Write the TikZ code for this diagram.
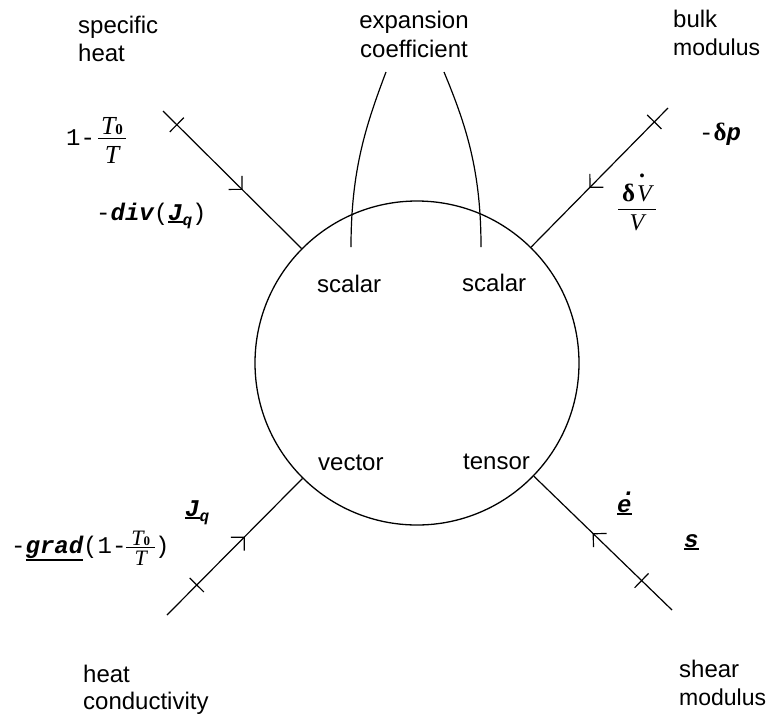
\documentclass[tikz,border=0pt]{standalone}
\usepackage{fontspec}
\setmainfont{Liberation Sans}
\newfontfamily\cour{Liberation Mono}
\newfontfamily\serf{Liberation Serif}
\usetikzlibrary{decorations.markings}

\newcommand\myul[1]{\leavevmode\vtop{\hbox{#1}\kern1.2pt\hrule height1.4pt}}
% above-kern, below-kern, side-kern, numerator, denominator
\newcommand\myfr[5]{\vbox{\offinterlineskip\halign{\hfil\kern#3##\kern#3\hfil\cr #4\cr\noalign{\kern#1\hrule height1.4pt\kern#2}#5\cr}}}
\newcommand\Tit[1]{{\serf\itshape\fontsize{#1}{#1}\selectfont T}}
\newcommand\zero[1]{{\serf\bfseries\fontsize{#1}{#1}\selectfont 0}}
\newcommand\Vit{{\serf\itshape\fontsize{24}{24}\selectfont V}}
\newcommand\dlt{{\serf\bfseries\fontsize{25}{25}\selectfont δ}}

\tikzset{
  lbl/.style={anchor=base west, inner sep=0pt, font=\fontsize{24}{28}\selectfont},
  lblc/.style={anchor=base, inner sep=0pt, font=\fontsize{24}{28}\selectfont},
  frm/.style={anchor=base west, inner sep=0pt, font=\cour\fontsize{24}{24}\selectfont},
  bond/.style={line width=1.2pt, postaction={decorate}, decoration={markings,
    mark=at position #1 with {\draw[line width=1.2pt] (0pt,-10pt) -- (0pt,10pt);},
    mark=at position 0.57 with {\draw[line width=1.2pt, line join=miter] (-9.5pt,9.5pt) -- (0pt,0pt) -- (-9.5pt,-9.5pt);}}},
  curve/.style={line width=1.2pt}
}

\begin{document}
\begin{tikzpicture}[x=1pt,y=-1pt]
\path[use as bounding box] (0,0) rectangle (768,713);

% central circle
\node[draw, circle, minimum size=324pt, inner sep=0pt, line width=1.3pt] (c) at (417,363) {};

% outer ends of the bonds
\coordinate (ulo) at (163,111);
\coordinate (uro) at (668,108);
\coordinate (llo) at (167,615);
\coordinate (lro) at (672,610);

\draw[bond=0.1]  (ulo) -- (c);
\draw[bond=0.1]  (uro) -- (c);
\draw[bond=0.22] (llo) -- (c);
\draw[bond=0.22] (lro) -- (c);

% expansion coefficient curves
\coordinate (el) at (386,72);
\coordinate (sl) at (351,247);
\coordinate (er) at (444,72);
\coordinate (sr) at (481,247);
\draw[curve] (el) .. controls (366,125) and (351,170) .. (sl);
\draw[curve] (er) .. controls (466,125) and (481,170) .. (sr);

% corner labels
\node[lbl] (sp1) at (78,33) {specific};
\node[lbl] (sp2) at (78,61.5) {heat};
\node[lblc] (ex1) at (414,28) {expansion};
\node[lblc] (ex2) at (414,57) {coefficient};
\node[lbl] (bu1) at (673,27) {bulk};
\node[lbl, font=\fontsize{23}{28}\selectfont] (bu2) at (673,55) {modulus};
\node[lbl] (hc1) at (83,682) {heat};
\node[lbl] (hc2) at (83,709) {conductivity};
\node[lbl] (sh1) at (679,677) {shear};
\node[lbl, font=\fontsize{23}{28}\selectfont] (sh2) at (679,705) {modulus};

% labels inside the circle
\node[lbl] (sc1) at (317,292) {scalar};
\node[lbl] (sc2) at (462,291) {scalar};
\node[lbl] (vec) at (318,470) {vector};
\node[lbl] (ten) at (463,469) {tensor};

% formulas
\node[frm] (f1) at (66,145) {1-\kern3pt\raisebox{-18pt}{\myfr{3pt}{6.5pt}{3pt}{\Tit{26}\zero{15}}{\Tit{26}}}};
\node[frm] (f2) at (96,220) {-{\bfseries\itshape div}(\myul{\bfseries\itshape J}\raisebox{-5pt}{\fontsize{16}{16}\selectfont\bfseries\itshape q})};
\node[frm] (f3) at (699,140) {-\dlt{\bfseries\itshape p}};
\node[anchor=base, inner sep=0pt] (f4) at (637,230) {\myfr{7pt}{4.3pt}{4pt}{\dlt\kern2pt\makebox[0pt][l]{\kern2pt\raisebox{24pt}{\serf\bfseries\fontsize{24}{24}\selectfont .}}\Vit}{\Vit}};
\node[frm] (f5) at (185,516) {\myul{\bfseries\itshape J}\raisebox{-5pt}{\fontsize{16}{16}\selectfont\bfseries\itshape q}};
\node[frm] (f6) at (11,553) {-\myul{\bfseries\itshape grad}(1-\raisebox{-12pt}{\myfr{1.5pt}{2.5pt}{5pt}{\Tit{22}\zero{13}}{\Tit{22}}})};
\node[frm] (f7) at (617,512) {\bfseries\itshape\makebox[0pt][l]{\kern5pt\raisebox{17pt}{.}}\myul{e}};
\node[frm] (f8) at (684,547) {\bfseries\itshape\myul{s}};
\end{tikzpicture}
\end{document}
